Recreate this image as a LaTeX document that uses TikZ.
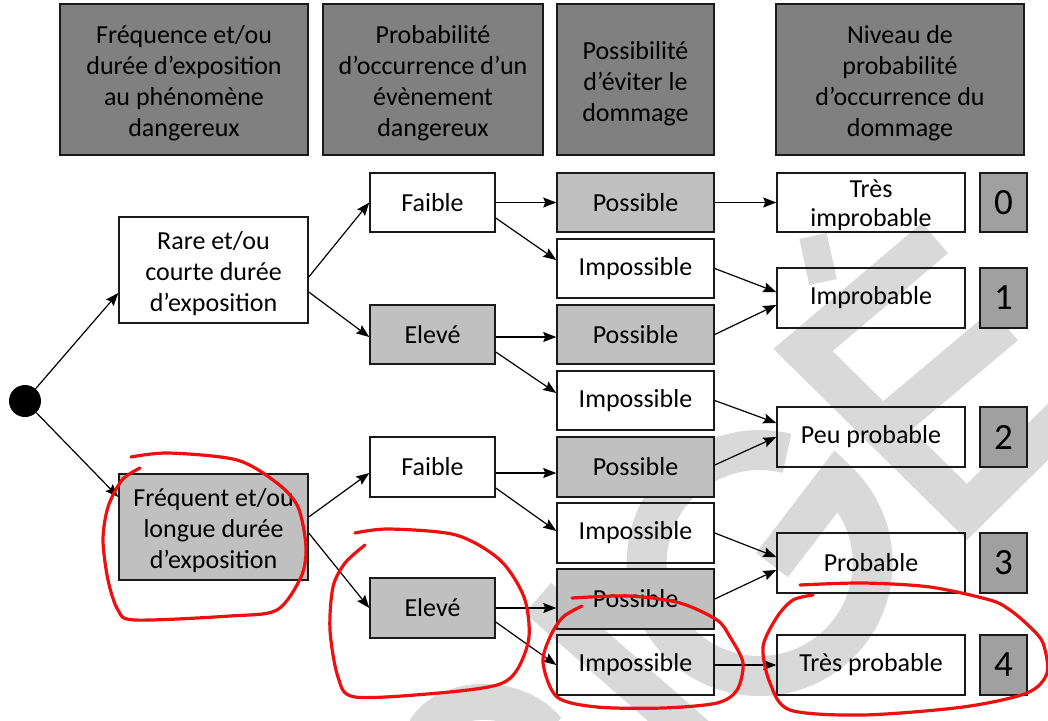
\documentclass[tikz,border=0pt]{standalone}
\usepackage{fontspec}
\setmainfont{Carlito}
\usetikzlibrary{arrows.meta}
\definecolor{hdr}{HTML}{808080}
\definecolor{lgt}{HTML}{C0C0C0}
\definecolor{numc}{HTML}{A0A0A0}
\definecolor{wm}{HTML}{D9D9D9}
\definecolor{ann}{RGB}{238,16,16}
\definecolor{edge}{HTML}{1A1A1A}
\begin{document}
\begin{tikzpicture}[x=1pt,y=-1pt,
  basebox/.style={draw=edge, line width=1.5pt, inner sep=0pt, align=center, font=\fontsize{26}{31}\selectfont},
  mtext/.style={align=center, font=\fontsize{26}{31}\selectfont, inner sep=0pt, yshift=-4pt},
  hdrbox/.style={basebox, fill=hdr, minimum height=151pt},
  wbox/.style={basebox, minimum height=59pt},
  gbox/.style={basebox, fill=lgt, minimum height=59pt},
  nbox/.style={basebox, fill=numc, minimum width=47pt, minimum height=59pt, font=\fontsize{37}{40}\selectfont},
  arr/.style={line width=1.2pt, -{Stealth[length=13pt,width=10pt,inset=2pt]}},
  redmark/.style={draw=ann, line width=3.2pt, line cap=round, line join=round},
  wmark/.style={draw=wm, line width=40pt}
]
\fill[white] (0,0) rectangle (1048,720);
\useasboundingbox (0,0) rectangle (1048,720);

% watermark
\begin{scope}
\clip (0,0) rectangle (1048,720);
\draw[wmark, line width=28pt] (813,236) -- (823,282);
\draw[wmark, line join=miter] (935,238) -- (803,350) -- (967,512) -- (1080,400);
\draw[wmark] (1005,325) -- (880,430);
\draw[wmark] (787,453.4) arc[start angle=-76, end angle=-407, radius=113] -- (772,565);
\draw[wmark] (538,598) -- (700,740);
\draw[wmark, line width=36pt] (425,730) .. controls (445,695) and (515,690) .. (548,730);
\end{scope}

% headers
\node[hdrbox, minimum width=248pt, label={[mtext]center:{Fréquence et/ou\\durée d’exposition\\au phénomène\\dangereux}}] (h1) at (184,79.5) {};
\node[hdrbox, minimum width=220pt, label={[mtext]center:{Probabilité\\d’occurrence d’un\\évènement\\dangereux}}] (h2) at (433,79.5) {};
\node[hdrbox, minimum width=157pt, label={[mtext]center:{Possibilité\\d’éviter le\\dommage}}] (h3) at (635.5,79.5) {};
\node[hdrbox, minimum width=248pt, label={[mtext]center:{Niveau de\\probabilité\\d’occurrence du\\dommage}}] (h4) at (900,79.5) {};

% root
\node[circle, fill=black, minimum size=32pt, inner sep=0pt] (root) at (25,401) {};

% column 1
\node[wbox, minimum width=189pt, minimum height=106pt, label={[mtext]center:{Rare et/ou\\courte durée\\d’exposition}}] (rare) at (213.5,270) {};
\node[gbox, minimum width=189pt, minimum height=106pt, label={[mtext]center:{Fréquent et/ou\\longue durée\\d’exposition}}] (freq) at (213.5,527) {};

% column 2
\node[wbox, minimum width=125pt] (f1) at (432.5,202.5) {Faible};
\node[gbox, minimum width=125pt] (e1) at (432.5,334.5) {Elevé};
\node[wbox, minimum width=125pt, minimum height=60pt] (f2) at (432.5,467) {Faible};
\node[gbox, minimum width=125pt, minimum height=60pt] (e2) at (432.5,608) {Elevé};

% column 3
\node[gbox, minimum width=157pt] (p1) at (635.5,202.5) {Possible};
\node[wbox, minimum width=157pt] (i1) at (635.5,268.5) {Impossible};
\node[gbox, minimum width=157pt] (p2) at (635.5,334.5) {Possible};
\node[wbox, minimum width=157pt] (i2) at (635.5,400.5) {Impossible};
\node[gbox, minimum width=157pt, minimum height=60pt] (p3) at (635.5,467) {Possible};
\node[wbox, minimum width=157pt, minimum height=60pt] (i3) at (635.5,533) {Impossible};
\node[gbox, minimum width=157pt, minimum height=60pt] (p4) at (635.5,599) {Possible};
\node[wbox, minimum width=157pt, minimum height=60pt] (i4) at (635.5,665) {Impossible};

% column 4
\node[wbox, minimum width=188pt, label={[mtext, font=\fontsize{26}{29}\selectfont, yshift=1pt]center:{Très\\improbable}}] (ti) at (871,202.5) {};
\node[wbox, minimum width=188pt, minimum height=60pt] (imp) at (871,298) {Improbable};
\node[wbox, minimum width=188pt, minimum height=60pt] (peu) at (871,437) {Peu probable};
\node[wbox, minimum width=188pt, minimum height=60pt] (prob) at (871,563) {Probable};
\node[wbox, minimum width=188pt, minimum height=60pt] (tp) at (871,665) {Très probable};

% numbers
\node[nbox] (n0) at (1003.5,202.5) {0};
\node[nbox, minimum height=60pt] (n1) at (1003.5,298) {1};
\node[nbox, minimum height=60pt] (n2) at (1003.5,437) {2};
\node[nbox, minimum height=60pt] (n3) at (1003.5,563) {3};
\node[nbox, minimum height=60pt] (n4) at (1003.5,665) {4};

% connectors
\draw[arr] (root) -- ([yshift=-23pt]rare.west);
\draw[arr] (root) -- ([yshift=30pt]freq.west);
\draw[arr] ([yshift=-7pt]rare.east) -- (f1.west);
\draw[arr] ([yshift=-22pt]rare.east) -- ([yshift=-2.5pt]e1.west);
\draw[arr] ([yshift=10pt]freq.east) -- ([yshift=-6pt]f2.west);
\draw[arr] ([yshift=-6pt]freq.east) -- (e2.west);
\draw[arr] (f1.east) -- (p1.west);
\draw[arr] ([yshift=-15.5pt]f1.east) -- ([yshift=8.5pt]i1.west);
\draw[arr] ([yshift=-2.5pt]e1.east) -- ([yshift=-2.5pt]e1.east -| p2.west);
\draw[arr] ([yshift=-17.5pt]e1.east) -- ([yshift=7.5pt]i2.west);
\draw[arr] ([yshift=-6pt]f2.east) -- ([yshift=-6pt]f2.east -| p3.west);
\draw[arr] ([yshift=-21pt]f2.east) -- ([yshift=2pt]i3.west);
\draw[arr] (e2.east) -- (e2.east -| p4.west);
\draw[arr] ([yshift=-14pt]e2.east) -- (i4.west);
\draw[arr] (p1.east) -- (ti.west);
\draw[arr] (i1.east) -- ([yshift=6pt]imp.west);
\draw[arr] (p2.east) -- ([yshift=-7pt]imp.west);
\draw[arr] (i2.east) -- ([yshift=14pt]peu.west);
\draw[arr] ([yshift=2pt]p3.east) -- (peu.west);
\draw[arr] (i3.east) -- ([yshift=6pt]prob.west);
\draw[arr] (p4.east) -- ([yshift=-7pt]prob.west);
\draw[arr] (i4.east) -- (tp.west);

% red hand-drawn annotations
\draw[redmark] plot[smooth] coordinates {(131,457) (169,453) (237,460) (277,483) (298,507) (306,547) (301,577) (277,610) (230,616) (135,620) (118,610) (108,580) (103,540) (108,507) (122,480) (140,468)};
\draw[redmark] plot[smooth] coordinates {(355,533) (389,529) (456,535) (500,560) (524,597) (529,637) (517,670) (497,685) (439,693) (355,697) (338,677) (330,630) (333,587) (345,563) (365,545)};
\draw[redmark] plot[smooth] coordinates {(572,598) (630,596) (680,603) (717,620) (730,637) (743,663) (737,690) (717,703) (663,708) (597,707) (557,697) (543,663) (550,637) (563,617) (582,606)};
\draw[redmark] plot[smooth] coordinates {(800,585) (863,583) (930,587) (990,600) (1010,610) (1030,627) (1043,643) (1047,673) (1027,693) (963,707) (863,715) (790,710) (770,683) (763,647) (777,617) (793,600) (813,595)};
\end{tikzpicture}
\end{document}
